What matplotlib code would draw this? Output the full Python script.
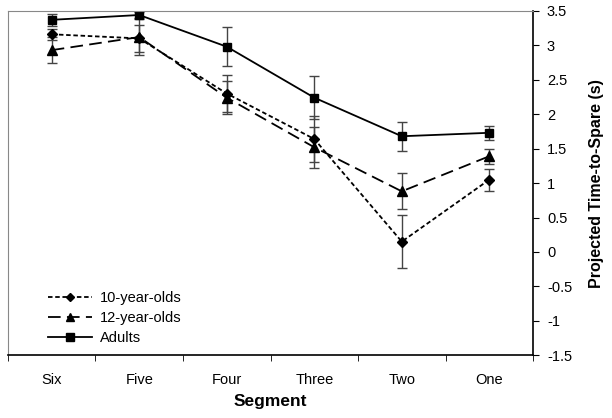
import numpy as np
import matplotlib.pyplot as plt

plt.rcParams['font.family'] = ['Liberation Sans', 'DejaVu Sans']

segments = ["Six", "Five", "Four", "Three", "Two", "One"]
ten_mean = [3.16, 3.10, 2.30, 1.64, 0.15, 1.05]
ten_err = [0.08, 0.20, 0.27, 0.33, 0.38, 0.16]
twelve_mean = [2.93, 3.12, 2.24, 1.52, 0.88, 1.39]
twelve_err = [0.19, 0.26, 0.24, 0.30, 0.26, 0.11]
adult_mean = [3.37, 3.44, 2.98, 2.24, 1.68, 1.73]
adult_err = [0.09, 0.05, 0.28, 0.31, 0.21, 0.10]

fig = plt.figure(figsize=(6.12, 4.18), dpi=100)
ax = fig.add_axes([0.013, 0.150, 0.858, 0.824])

x = np.arange(len(segments))
ekw = dict(ecolor="#444444", elinewidth=1.0, capsize=3.5, capthick=1.0)
c10 = ax.errorbar(x, ten_mean, yerr=ten_err, color="black", ls=(0, (2.5, 1.5)), lw=1.3,
                  marker="D", ms=5, **ekw)
c12 = ax.errorbar(x, twelve_mean, yerr=twelve_err, color="black", ls=(0, (7, 3.5)), lw=1.3,
                  marker="^", ms=6.5, **ekw)
cad = ax.errorbar(x, adult_mean, yerr=adult_err, color="black", ls="-", lw=1.3,
                  marker="s", ms=6, **ekw)

ax.set_xlim(-0.5, len(segments) - 0.5)
ax.set_ylim(-1.5, 3.5)
ax.set_xticks(x)
ax.set_xticklabels(segments, fontsize=10.5)
ax.set_xticks(np.arange(-0.5, len(segments)), minor=True)
ax.tick_params(axis="x", which="major", length=0, pad=13)
ax.tick_params(axis="x", which="minor", length=4, direction="out")
ax.yaxis.tick_right()
ax.yaxis.set_label_position("right")
yt = np.arange(-1.5, 3.6, 0.5)
ax.set_yticks(yt)
ax.set_yticklabels([f"{v:g}" for v in yt], fontsize=10.5)
ax.tick_params(axis="y", length=4, direction="out", pad=6)

for s in ["top", "left"]:
    ax.spines[s].set_color("#888888")
for s in ["bottom", "right"]:
    ax.spines[s].set_color("black")
    ax.spines[s].set_linewidth(1.2)

ax.set_xlabel("Segment", fontsize=12.5, fontweight="bold", labelpad=5)
ax.set_ylabel("Projected Time-to-Spare (s)", fontsize=11.5, fontweight="bold", labelpad=12)

ax.legend([c10.lines[0], c12.lines[0], cad.lines[0]],
          ["10-year-olds", "12-year-olds", "Adults"],
          loc="lower left", bbox_to_anchor=(0.076, 0.03), frameon=False,
          fontsize=10.5, handlelength=3.0, handletextpad=0.6, labelspacing=0.4,
          borderaxespad=0, borderpad=0, markerscale=0.85)

fig.savefig("out.png", dpi=100)
